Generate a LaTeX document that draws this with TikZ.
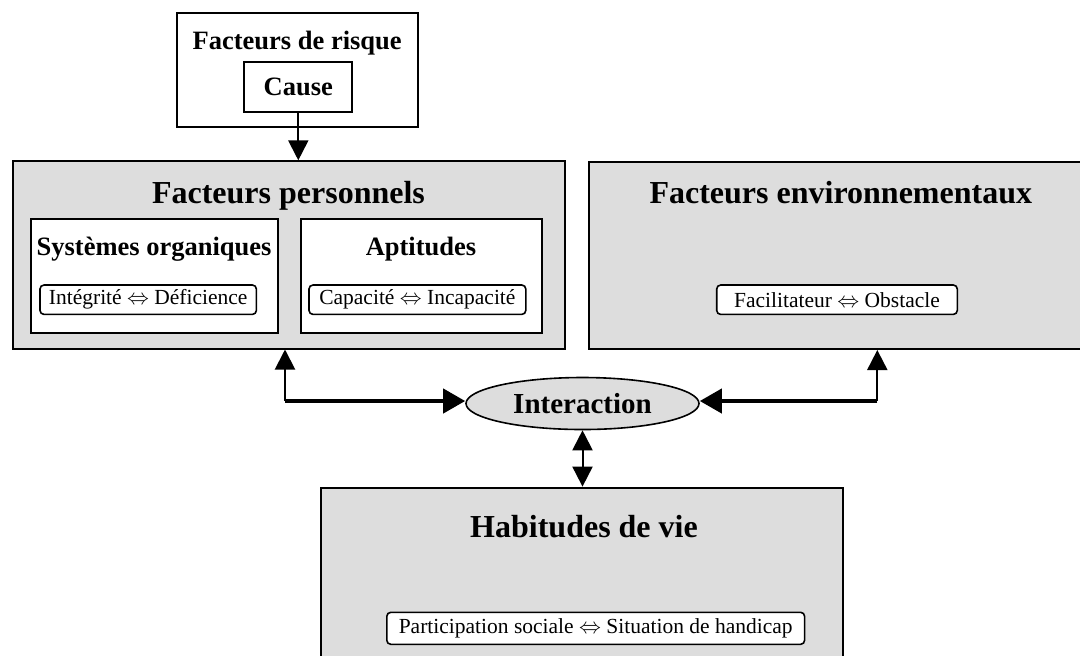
\documentclass[tikz,border=0pt]{standalone}
\usepackage{fontspec}
\setmainfont{Liberation Serif}
\usetikzlibrary{arrows.meta,shapes.geometric}
\definecolor{boxgray}{RGB}{221,221,221}
\tikzset{
	frame/.style={draw, line width=1pt, inner sep=0pt},
	grayframe/.style={frame, fill=boxgray},
	pair/.style={draw, fill=white, rounded corners=2pt, line width=0.8pt, inner sep=0pt, minimum height=14.7pt, font=\fontsize{10.75}{12}\selectfont},
	bigtitle/.style={inner sep=0pt, anchor=base, font=\fontsize{16}{19}\selectfont\bfseries},
	midtitle/.style={inner sep=0pt, anchor=base, font=\fontsize{13.25}{16}\selectfont\bfseries},
	>={Triangle[length=10pt,width=10pt]},
	thinlink/.style={line width=1pt, ->},
	thicklink/.style={line width=2pt, -{Triangle[length=11pt,width=12pt]}}
}

\begin{document}
\begin{tikzpicture}[x=0.5pt, y=-0.5pt]
			%%%%% START %%%%%
			\clip (0, 0) rectangle (1080, 655);
			
			\node[frame, minimum width=120.2pt, minimum height=57pt] (risk) at (297.5, 69.7) {};
			\node[bigtitle, font=\fontsize{13.25}{16}\selectfont\bfseries] (risktitle) at (297.2, 49.3) {Facteurs de risque};
			\node[frame, minimum width=54pt, minimum height=25.2pt, font=\fontsize{13.25}{16}\selectfont\bfseries] (cause) at (298.3, 87.2) {Cause};
			
			\node[grayframe, minimum width=276.3pt, minimum height=93.6pt] (pers) at (288.8, 254.9) {};
			\node[bigtitle] (perstitle) at (288.5, 203.3) {Facteurs personnels};
			
			\node[frame, fill=white, minimum width=123.3pt, minimum height=57.2pt] (sys) at (154.3, 276.2) {};
			\node[midtitle] (systitle) at (154.1, 255) {Systèmes organiques};
			\node[pair, minimum width=108.2pt] (integ) at (148.2, 299.7) {Intégrité $\Leftrightarrow$ Déficience};
			
			\node[frame, fill=white, minimum width=120.5pt, minimum height=57.2pt] (apt) at (421.5, 276.2) {};
			\node[midtitle] (apttitle) at (421, 255) {Aptitudes};
			\node[pair, minimum width=108.4pt] (capac) at (417.4, 299.7) {Capacité $\Leftrightarrow$ Incapacité};
			
			\node[grayframe, minimum width=251pt, minimum height=93.7pt] (env) at (840, 255.3) {};
			\node[bigtitle] (envtitle) at (840.8, 203.3) {Facteurs environnementaux};
			\node[pair, minimum width=120.3pt] (facil) at (837, 299.7) {Facilitateur $\Leftrightarrow$ Obstacle};
			
			\node[ellipse, draw, line width=0.8pt, fill=boxgray, inner sep=0pt, minimum width=116.5pt, minimum height=26pt, font=\fontsize{14.5}{17}\selectfont\bfseries] (inter) at (582.5, 403.5) {Interaction};
			
			\node[grayframe, minimum width=260.8pt, minimum height=93.7pt] (habit) at (582.2, 581.3) {};
			\node[bigtitle] (habittitle) at (584, 537.3) {Habitudes de vie};
			\node[pair, minimum width=208.9pt, minimum height=16pt] (partic) at (595.7, 628.3) {Participation sociale $\Leftrightarrow$ Situation de handicap};
			
			\coordinate (lturn) at (285, 401);
			\coordinate (rturn) at (877.3, 401);
			
			\draw[thinlink] (cause.south) -- (cause.south |- pers.north);
			\draw[thinlink] (lturn) -- (lturn |- pers.south);
			\draw[thicklink] (lturn) -- (lturn -| inter.west);
			\draw[thinlink] (rturn) -- (rturn |- env.south);
			\draw[thicklink] (rturn) -- (rturn -| inter.east);
			\draw[thinlink, <->] (inter.south) -- (inter.south |- habit.north);
			
			%%%%% END %%%%%
		\end{tikzpicture}
\end{document}
